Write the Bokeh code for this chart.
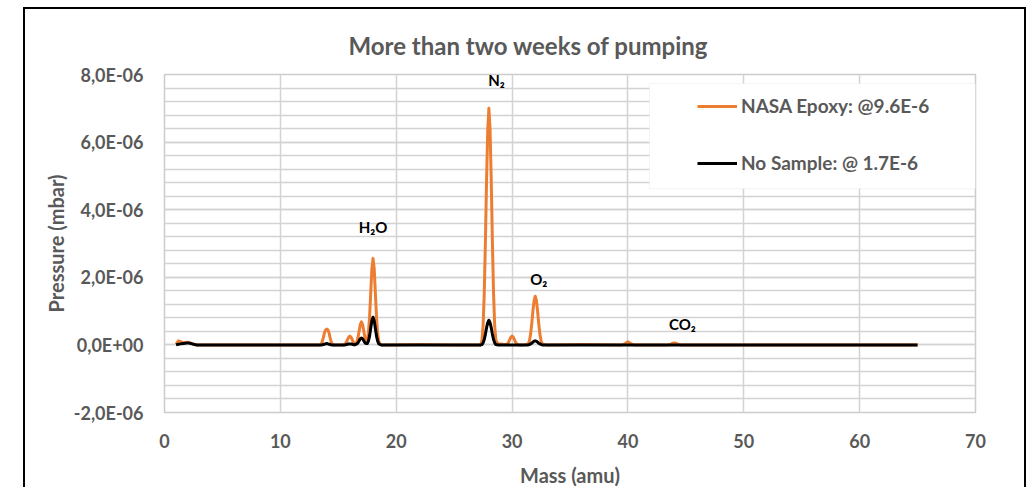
from bokeh.plotting import figure
from bokeh.models import (FixedTicker, CustomJSTickFormatter, Legend, LegendItem,
                          BoxAnnotation, Range1d)
from bokeh.core.properties import value
from bokeh.embed import file_html
from bokeh.resources import INLINE

SCALE = 1e-6  # values below are in units of 1E-06 mbar

mass = [
    1.0, 1.2, 1.4, 1.6, 1.8, 2.0, 2.2, 2.4, 2.6, 2.8, 3.0, 5.0, 8.0, 11.0, 13.4,
    13.5, 13.6, 13.7, 13.8, 13.9, 14.0, 14.1, 14.2, 14.3, 14.4, 14.5, 14.6, 15.0, 15.4,
    15.5, 15.6, 15.7, 15.8, 15.9, 16.0, 16.1, 16.2, 16.3, 16.4, 16.5,
    16.6, 16.7, 16.8, 16.9, 17.0, 17.1, 17.2, 17.3, 17.4, 17.5,
    17.6, 17.7, 17.8, 17.9, 18.0, 18.1, 18.2, 18.3, 18.4, 18.5, 18.6, 18.7,
    19.0, 22.0, 25.0, 27.3,
    27.4, 27.5, 27.6, 27.7, 27.8, 27.9, 28.0, 28.1, 28.2, 28.3, 28.4, 28.5, 28.6,
    28.8, 29.0, 29.2, 29.5,
    29.6, 29.7, 29.8, 29.9, 30.0, 30.1, 30.2, 30.3, 30.4, 30.5, 30.6,
    31.0, 31.4,
    31.5, 31.6, 31.7, 31.8, 31.9, 32.0, 32.1, 32.2, 32.3, 32.4, 32.5, 32.6,
    33.0, 36.0, 39.4, 39.6, 39.8, 40.0, 40.2, 40.4, 40.6,
    43.4, 43.6, 43.8, 44.0, 44.2, 44.4, 44.6, 46.0, 50.0, 55.0, 60.0, 65.0,
]

nasa_epoxy = [
    0.02, 0.12, 0.10, 0.06, 0.07, 0.08, 0.06, 0.03, 0.01, 0.0, 0.0, 0.0, 0.0, 0.0, 0.0,
    0.02, 0.08, 0.20, 0.35, 0.44, 0.47, 0.45, 0.36, 0.20, 0.08, 0.02, 0.0, 0.0, 0.0,
    0.01, 0.03, 0.08, 0.16, 0.23, 0.26, 0.23, 0.16, 0.08, 0.04, 0.04,
    0.09, 0.22, 0.41, 0.60, 0.68, 0.60, 0.41, 0.22, 0.12, 0.13,
    0.34, 0.82, 1.54, 2.25, 2.56, 2.25, 1.54, 0.82, 0.33, 0.10, 0.03, 0.0,
    0.0, 0.01, 0.0, 0.0,
    0.14, 0.56, 1.54, 3.08, 4.90, 6.37, 7.00, 6.37, 4.90, 3.08, 1.54, 0.56, 0.14,
    0.02, 0.03, 0.02, 0.01,
    0.03, 0.08, 0.16, 0.23, 0.26, 0.23, 0.16, 0.08, 0.03, 0.01, 0.0,
    0.0, 0.03,
    0.12, 0.32, 0.63, 1.01, 1.31, 1.44, 1.31, 1.01, 0.63, 0.32, 0.12, 0.03,
    0.0, 0.01, 0.0, 0.01, 0.05, 0.09, 0.05, 0.01, 0.0,
    0.0, 0.01, 0.04, 0.06, 0.04, 0.01, 0.0, 0.0, 0.0, 0.0, 0.0, 0.0,
]

no_sample = [
    0.0, 0.02, 0.03, 0.04, 0.05, 0.06, 0.05, 0.03, 0.01, 0.0, 0.0, 0.0, 0.0, 0.0, 0.0,
    0.0, 0.0, 0.01, 0.02, 0.03, 0.04, 0.03, 0.02, 0.01, 0.0, 0.0, 0.0, 0.0, 0.0,
    0.0, 0.0, 0.01, 0.02, 0.03, 0.03, 0.03, 0.02, 0.01, 0.0, 0.01,
    0.03, 0.06, 0.12, 0.18, 0.20, 0.18, 0.12, 0.06, 0.04, 0.04,
    0.11, 0.26, 0.49, 0.72, 0.82, 0.72, 0.49, 0.26, 0.11, 0.03, 0.01, 0.0,
    0.0, 0.0, 0.0, 0.0,
    0.01, 0.06, 0.16, 0.32, 0.51, 0.66, 0.73, 0.66, 0.51, 0.32, 0.16, 0.06, 0.01,
    0.0, 0.0, 0.0, 0.0,
    0.0, 0.0, 0.0, 0.0, 0.0, 0.0, 0.0, 0.0, 0.0, 0.0, 0.0,
    0.0, 0.0,
    0.01, 0.03, 0.05, 0.08, 0.11, 0.12, 0.11, 0.08, 0.05, 0.03, 0.01, 0.0,
    0.0, 0.0, 0.0, 0.0, 0.0, 0.0, 0.0, 0.0, 0.0,
    0.0, 0.0, 0.0, 0.0, 0.0, 0.0, 0.0, 0.0, 0.0, 0.0, 0.0, 0.0,
]

assert len(mass) == len(nasa_epoxy) == len(no_sample)

chart_title = "More than two weeks of pumping"
series_names = ["NASA Epoxy: @9.6E-6", "No Sample: @ 1.7E-6"]
x_ticks = [0, 10, 20, 30, 40, 50, 60, 70]
y_ticks = [-2, 0, 2, 4, 6, 8]

species = ["H\u2082O", "N\u2082", "O\u2082", "CO\u2082"]
species_x = [18.0, 28.65, 32.3, 44.7]
species_y = [3.5, 7.85, 1.94, 0.62]

GREY = "#595959"
FONT = "Lato"

p = figure(width=1003, height=480, output_backend="svg", toolbar_location=None,
           x_range=Range1d(0, 70), y_range=Range1d(-2 * SCALE, 8 * SCALE),
           min_border_left=139, min_border_right=53, min_border_top=65,
           min_border_bottom=75, background_fill_color="white",
           border_fill_color="white", margin=(7, 0, 0, 23),
           styles={"border-left": "2px solid black", "border-top": "2px solid black",
                   "border-right": "2px solid black"})

p.title.text = chart_title
p.title.align = "left"
p.title.offset = 184
p.title.text_font = FONT
p.title.text_font_size = "24px"
p.title.text_font_style = "bold"
p.title.text_color = GREY
p.title.standoff = 30

p.outline_line_color = "#cccccc"
p.outline_line_width = 1.5

# axes
p.xaxis.ticker = FixedTicker(ticks=x_ticks)
minor = [(-2 + 0.4 * i) * SCALE for i in range(26)]
p.yaxis.ticker = FixedTicker(ticks=[t * SCALE for t in y_ticks], minor_ticks=minor)
p.yaxis.formatter = CustomJSTickFormatter(code="""
const v = Math.round(tick * 1e7) / 10;
if (v === 0) { return "0,0E+00"; }
return v.toFixed(1).replace('.', ',') + "E-06";
""")
for ax in (p.xaxis[0], p.yaxis[0]):
    ax.axis_line_color = None
    ax.major_tick_line_color = None
    ax.minor_tick_line_color = None
    ax.major_label_text_font = FONT
    ax.major_label_text_font_size = "18px"
    ax.major_label_text_font_style = "bold"
    ax.major_label_text_color = GREY
    ax.axis_label_text_font = FONT
    ax.axis_label_text_font_size = "20px"
    ax.axis_label_text_font_style = "bold"
    ax.axis_label_text_color = GREY
p.xaxis.axis_label = "Mass (amu)"
p.yaxis.axis_label = "Pressure (mbar)"
p.xaxis.major_label_standoff = 15
p.xaxis.axis_label_standoff = 12
p.yaxis.major_label_standoff = 15
p.yaxis.axis_label_standoff = 3

p.xgrid.grid_line_color = "#d3d3d3"
p.xgrid.grid_line_width = 1.5
p.ygrid.grid_line_color = "#d3d3d3"
p.ygrid.grid_line_width = 1.5
p.ygrid.minor_grid_line_color = "#d3d3d3"
p.ygrid.minor_grid_line_width = 1.5

y_epoxy = [v * SCALE for v in nasa_epoxy]
y_none = [v * SCALE for v in no_sample]

r1 = p.line(mass, y_epoxy, line_color="#ED7D31", line_width=3, line_join="round")
r2 = p.line(mass, y_none, line_color="black", line_width=3, line_join="round")

p.text(x=species_x, y=[v * SCALE for v in species_y], text=species,
       text_font=value(FONT), text_font_size="15px", text_font_style="bold",
       text_color="black", text_align="center", text_baseline="middle")

# legend box
p.add_layout(BoxAnnotation(left=41.86, right=70.0, bottom=4.62 * SCALE, top=7.735 * SCALE,
                           fill_color="white", fill_alpha=1.0,
                           line_color="#d9d9d9", line_width=1))

legend = Legend(items=[LegendItem(label=value(series_names[0]), renderers=[r1]),
                       LegendItem(label=value(series_names[1]), renderers=[r2])],
                location=(533, 238), padding=0, spacing=34, margin=0,
                glyph_width=40, glyph_height=20, label_height=20, label_standoff=4,
                label_text_font=FONT, label_text_font_size="19px",
                label_text_font_style="bold", label_text_color=GREY,
                border_line_color=None, background_fill_alpha=0)
p.add_layout(legend)

open("out.html", "w").write(file_html(p, INLINE))
